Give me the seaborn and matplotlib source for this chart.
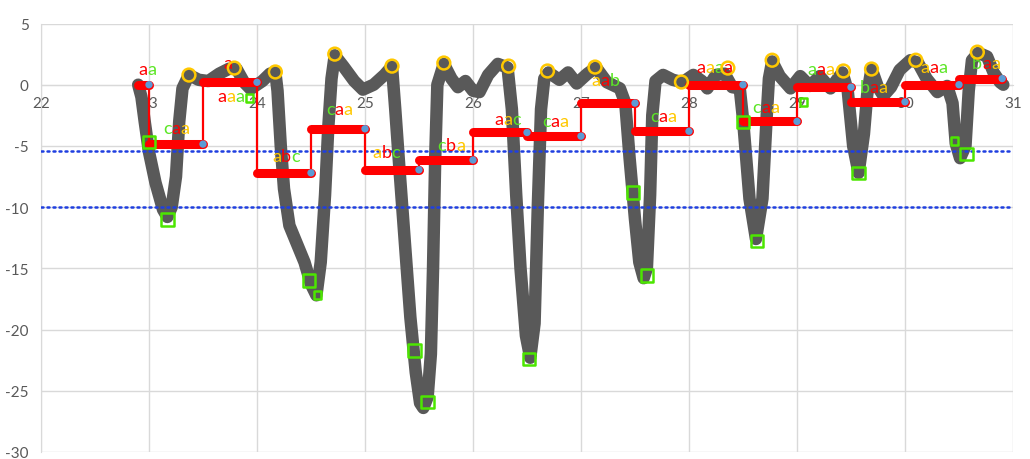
import matplotlib
matplotlib.use("Agg")
import matplotlib.pyplot as plt
from matplotlib import transforms
import seaborn as sns

# -----------------------------
# DATA
# -----------------------------

# gray measured curve
curve_x = [22.90, 22.93, 22.96, 23.00, 23.06, 23.13, 23.17, 23.21, 23.25, 23.28, 23.31, 23.37,
           23.46, 23.55, 23.65, 23.74, 23.81, 23.88, 23.94, 24.05, 24.12, 24.17,
           24.19, 24.22, 24.25, 24.30, 24.37, 24.44, 24.50, 24.55, 24.59, 24.63, 24.66, 24.69, 24.72,
           24.80, 24.90, 24.98, 25.08, 25.18, 25.25,
           25.28, 25.32, 25.37, 25.42, 25.47, 25.51, 25.54, 25.58, 25.61, 25.63, 25.65, 25.67, 25.73,
           25.80, 25.86, 25.93, 26.00, 26.06, 26.14, 26.23, 26.32,
           26.36, 26.40, 26.44, 26.49, 26.53, 26.57, 26.60, 26.63, 26.66, 26.70,
           26.80, 26.88, 26.96, 27.06, 27.14, 27.24, 27.36,
           27.41, 27.45, 27.50, 27.54, 27.58, 27.61, 27.64, 27.66, 27.69,
           27.76, 27.85, 27.94, 28.04, 28.12, 28.17, 28.25, 28.33, 28.40, 28.47,
           28.50, 28.56, 28.62, 28.68, 28.72, 28.74, 28.77,
           28.84, 28.94, 29.03, 29.12, 29.21, 29.31, 29.42,
           29.47, 29.52, 29.57, 29.62, 29.65, 29.69,
           29.75, 29.80, 29.87, 29.95, 30.05, 30.12, 30.20, 30.30, 30.39,
           30.44, 30.47, 30.51, 30.56, 30.59, 30.62, 30.68, 30.76, 30.82, 30.88, 30.91]
curve_y = [0.0, -1.0, -3.0, -5.5, -8.0, -10.2, -10.8, -10.0, -7.5, -3.0, -0.3, 0.8,
           0.4, 0.3, 0.9, 1.3, 1.3, 0.2, -0.35, 0.3, 0.9, 1.0,
           -0.5, -5.0, -8.5, -11.5, -13.0, -14.5, -16.3, -17.2, -14.5, -9.0, -3.5, 0.5, 2.4,
           1.5, 0.3, -0.4, 0.0, 0.8, 1.5,
           -2.0, -7.0, -13.0, -19.0, -23.5, -26.0, -26.4, -25.5, -22.0, -15.0, -6.0, 0.0, 1.7,
           0.5, -0.2, 0.3, -0.5, -0.6, 0.8, 1.7, 1.4,
           -2.0, -9.0, -15.0, -20.5, -22.3, -19.5, -10.0, -2.0, 0.5, 1.0,
           0.4, 1.0, 0.1, 0.9, 1.4, 0.2, -0.3,
           -1.5, -6.0, -11.0, -14.5, -15.8, -15.0, -9.0, -2.5, 0.3,
           0.8, 0.4, 0.2, 0.8, 0.3, -0.3, 0.8, 0.9, -0.2, -0.3,
           -2.8, -9.3, -12.6, -9.3, -2.5, 0.5, 1.9,
           0.7, -0.3, 0.7, -0.1, 0.7, -0.3, 1.0,
           -0.5, -5.0, -7.2, -4.0, -0.8, 1.3,
           -0.2, -0.9, -0.2, 1.2, 2.0, 1.8, 0.5, -0.6, -0.1,
           -1.5, -4.8, -6.0, -5.0, -0.5, 2.0, 2.6, 2.3, 1.0, 0.2, 0.0]

# red step segments
seg_edges = [22.9, 23.0, 23.5, 24.0, 24.5, 25.0, 25.5, 26.0, 26.5,
             27.0, 27.5, 28.0, 28.5, 29.0, 29.5, 30.0, 30.5, 30.9]
seg_vals = [0.0, -4.85, 0.2, -7.2, -3.6, -6.95, -6.15, -3.9, -4.2,
            -1.5, -3.8, 0.0, -3.0, -0.2, -1.4, 0.0, 0.5]

# yellow circles (peaks)
peak_x = [23.37, 23.79, 24.17, 24.72, 25.25, 25.73, 26.33, 26.69,
          27.13, 27.93, 28.36, 28.77, 29.43, 29.69, 30.10, 30.67]
peak_y = [0.79, 1.36, 1.04, 2.5, 1.52, 1.77, 1.52, 1.12,
          1.44, 0.22, 1.36, 2.0, 1.12, 1.28, 2.0, 2.66]

# green squares (troughs)
trough_x = [23.0, 23.17, 24.48, 25.46, 25.58, 26.52, 27.48, 27.61, 28.5, 28.63, 29.57, 30.57]
trough_y = [-4.68, -11.0, -16.0, -21.7, -25.9, -22.4, -8.8, -15.6, -3.05, -12.75, -7.2, -5.65]
trough_small_x = [23.93, 24.56, 29.06, 30.46]
trough_small_y = [-1.09, -17.2, -1.41, -4.6]

# blue dotted thresholds
thresholds = [-5.4, -10.0]

# letter labels: text, colours (r/y/g), left x, baseline y
lbl_txt = ["aa", "caa", "a", "aaa", "abc", "caa", "abc", "cba", "aac", "caa",
           "aab", "caa", "aaaa", "caa", "aaa", "baa", "aaa", "baa"]
lbl_col = ["rg", "gry", "r", "ryg", "yrg", "gry", "yrg", "gry", "ryg", "gry",
           "yrg", "gry", "rygr", "gry", "gry", "gry", "yrg", "gry"]
lbl_x = [22.905, 23.13, 23.685, 23.63, 24.14, 24.64, 25.07, 25.67, 26.20, 26.64,
         27.10, 27.64, 28.07, 28.59, 29.10, 29.58, 30.14, 30.62]
lbl_y = [0.9, -3.95, 1.36, -1.33, -6.2, -2.4, -5.9, -5.3, -3.2, -3.4,
         0.0, -3.0, 1.0, -2.2, 0.87, -0.6, 1.0, 1.36]

x_ticks = list(range(22, 32))
y_ticks = list(range(-30, 6, 5))

# -----------------------------
# STYLE
# -----------------------------
RED = "#FF0000"
YEL = "#FFC800"
GRN = "#5CE626"
SQ_GRN = "#4CE600"
GRAY = "#595959"
GRID = "#D9D9D9"
letter_colors = {"r": RED, "y": YEL, "g": GRN}

sns.set_style("white")
plt.rcParams["font.family"] = ["Lato", "DejaVu Sans"]
plt.rcParams["axes.unicode_minus"] = False

fig = plt.figure(figsize=(10.3, 4.6), dpi=100)
ax = fig.add_axes([41 / 1030, 1 - 453 / 460, (1013 - 41) / 1030, (453 - 24.5) / 460])

ax.set_xlim(22, 31)
ax.set_ylim(-30, 5)
ax.set_xticks(x_ticks)
ax.set_yticks(y_ticks)
ax.set_axisbelow(True)
ax.grid(True, color=GRID, lw=1)
for s in ["top", "right"]:
    ax.spines[s].set_visible(False)
ax.spines["left"].set_color(GRID)
ax.spines["bottom"].set_color(GRID)
ax.spines["bottom"].set_position(("data", 0))
ax.tick_params(axis="both", length=0, labelcolor=GRAY, labelsize=11)
ax.tick_params(axis="x", pad=8)
ax.tick_params(axis="y", pad=9)

# thresholds
for t in thresholds:
    ax.axhline(t, color="#1F3FE0", lw=1.8, ls=(0, (0.8, 1.6)), dash_capstyle="round", zorder=4)

# gray curve
sns.lineplot(x=curve_x, y=curve_y, sort=False, estimator=None, color=GRAY, lw=9,
             ax=ax, zorder=3, solid_capstyle="round", solid_joinstyle="round")

# red step segments
ax.vlines(seg_edges[1:-1], seg_vals[:-1], seg_vals[1:], color=RED, lw=1.6, zorder=5)
ax.hlines(seg_vals, seg_edges[:-1], seg_edges[1:], color=RED, lw=6.5,
          capstyle="round", zorder=5)
sns.scatterplot(x=seg_edges[1:], y=seg_vals, color="#5B9BD5", s=28,
                edgecolor="none", ax=ax, zorder=7)

# peaks and troughs
sns.scatterplot(x=peak_x, y=peak_y, marker="o", s=85, facecolor="none",
                edgecolor=YEL, linewidth=1.8, ax=ax, zorder=8)
sns.scatterplot(x=trough_x, y=trough_y, marker="s", s=80, facecolor="none",
                edgecolor=SQ_GRN, linewidth=1.8, ax=ax, zorder=8)
sns.scatterplot(x=trough_small_x, y=trough_small_y, marker="s", s=30, facecolor="none",
                edgecolor=SQ_GRN, linewidth=1.8, ax=ax, zorder=8)

# multi-coloured letters
renderer = fig.canvas.get_renderer()
for txt, cols, x, y in zip(lbl_txt, lbl_col, lbl_x, lbl_y):
    tr = ax.transData
    for ch, c in zip(txt, cols):
        t = ax.text(x, y, ch, color=letter_colors[c], fontsize=13, transform=tr,
                    va="baseline", ha="left", zorder=6)
        t.draw(renderer)
        ex = t.get_window_extent(renderer)
        tr = transforms.offset_copy(t.get_transform(), fig=fig, x=ex.width, units="dots")

fig.savefig("out.png", dpi=100)
